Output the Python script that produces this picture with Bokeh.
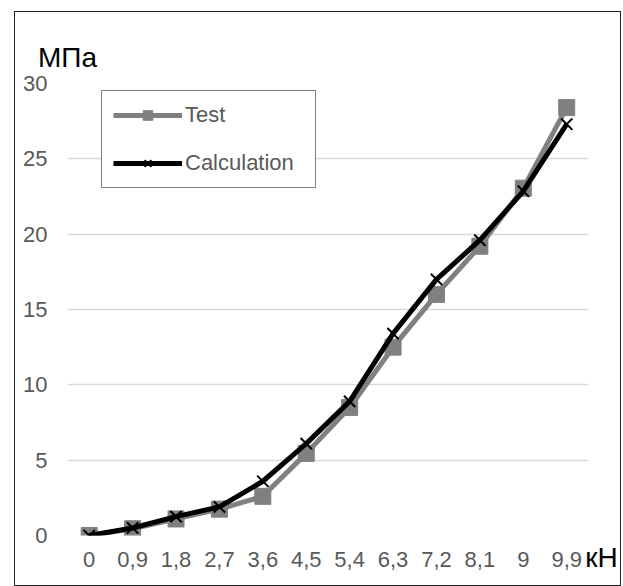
from bokeh.plotting import figure
from bokeh.models import (Range1d, Legend, LegendItem, LinearAxis, FixedTicker,
                          SingleIntervalTicker, BoxAnnotation)
from bokeh.embed import file_html
from bokeh.resources import INLINE

# Data
loads = ["0", "0,9", "1,8", "2,7", "3,6", "4,5", "5,4", "6,3", "7,2", "8,1", "9", "9,9"]
test = [0, 0.45, 1.1, 1.75, 2.6, 5.45, 8.5, 12.5, 16.0, 19.2, 23.05, 28.4]
calc = [0, 0.5, 1.25, 1.9, 3.6, 6.1, 8.9, 13.4, 17.0, 19.6, 22.85, 27.3]
y_unit = "МПа"
x_unit = "кН"
y_ticks_step = 5

FONT = "Liberation Sans"
GREY_TXT = "#595959"

idx = list(range(len(loads)))

p = figure(width=607, height=575, x_range=Range1d(-0.5, 11.94), y_range=(0, 30),
           x_axis_type=None, output_backend="svg", toolbar_location=None,
           min_border_left=52, min_border_right=15, min_border_top=71, min_border_bottom=52,
           margin=(11, 0, 0, 14))
p.styles = {"border": "1.5px solid #222222", "box-sizing": "border-box"}
p.outline_line_color = None
p.background_fill_color = "white"
p.border_fill_color = "white"
# pixel helper range for the unit labels (0 = left edge of the plotting area)
p.extra_x_ranges = {"px": Range1d(0, 540)}

p.ygrid.grid_line_color = "#d9d9d9"
p.ygrid.grid_line_width = 1.5
p.yaxis.ticker = SingleIntervalTicker(interval=y_ticks_step)
grid = p.ygrid[0]
if "cross_bounds" in grid.properties():
    grid.cross_bounds = (-0.5, 11.5)
else:
    p.add_layout(BoxAnnotation(left=11.5, fill_color="white", fill_alpha=1,
                               line_color=None, level="underlay"))

xaxis = LinearAxis(ticker=FixedTicker(ticks=idx),
                   major_label_overrides={i: lab for i, lab in zip(idx, loads)})
p.add_layout(xaxis, "below")
kn_axis = LinearAxis(x_range_name="px", ticker=FixedTicker(ticks=[534]),
                     major_label_overrides={534: x_unit})
p.add_layout(kn_axis, "below")
mpa_axis = LinearAxis(x_range_name="px", ticker=FixedTicker(ticks=[0]),
                      major_label_overrides={0: y_unit})
p.add_layout(mpa_axis, "above")

for ax in (xaxis, p.yaxis[0], kn_axis, mpa_axis):
    ax.axis_line_color = None
    ax.major_tick_line_color = None
    ax.minor_tick_line_color = None
    ax.major_tick_out = 0
    ax.major_tick_in = 0
    ax.minor_tick_out = 0
    ax.minor_tick_in = 0
    ax.major_label_text_font = FONT
    ax.major_label_text_font_size = "22px"
    ax.major_label_text_color = GREY_TXT
for ax in (kn_axis, mpa_axis):
    ax.major_label_text_font_size = "28px"
    ax.major_label_text_color = "black"
p.yaxis.major_label_standoff = 20
xaxis.major_label_standoff = 16
kn_axis.major_label_standoff = -28
mpa_axis.major_label_standoff = 11

r_test_l = p.line(idx, test, line_color="#808080", line_width=5)
r_test_m = p.scatter(idx, test, marker="square", size=16, fill_color="#808080", line_color="#808080")
r_calc_l = p.line(idx, calc, line_color="black", line_width=5)
r_calc_m = p.scatter(idx, calc, marker="x", size=16, line_color="black", line_width=2)

legend = Legend(items=[LegendItem(label="Test", renderers=[r_test_l, r_test_m]),
                       LegendItem(label="Calculation", renderers=[r_calc_l, r_calc_m])],
                location=(34, 347), margin=0, padding=11, spacing=22,
                glyph_width=69, glyph_height=24, label_height=24, label_width=119,
                label_standoff=3, label_text_font=FONT, label_text_font_size="22px",
                label_text_color=GREY_TXT, border_line_color="black", border_line_width=1.5,
                background_fill_alpha=1)
p.add_layout(legend, "center")

open("out.html", "w").write(file_html(p, INLINE))
